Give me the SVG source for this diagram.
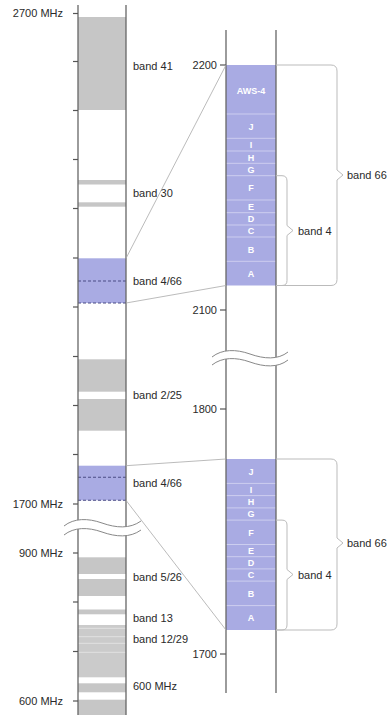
<svg xmlns="http://www.w3.org/2000/svg" width="387" height="715" viewBox="0 0 387 715">
<style>
.txt{font-family:"Liberation Sans",Arial,sans-serif;font-size:11px;fill:#2a2a2a}
.end{text-anchor:end}
.grey{fill:#c6c6c6}
.lgrey{fill:#cbcbcb}
.purple{fill:#a9abe3}
.col{stroke:#666;stroke-width:1.3;fill:none}
.tick{stroke:#555;stroke-width:1.2}
.dash{stroke:#4b4c85;stroke-width:1.1;stroke-dasharray:3,2}
.sep{stroke:#d6d7f3;stroke-width:0.8}
.wsep{stroke:#e4e4e4;stroke-width:0.9}
.lt{font-family:"Liberation Sans",Arial,sans-serif;font-weight:bold;font-size:9px;fill:#fff;text-anchor:middle}
.conn{stroke:#aaa;stroke-width:0.8;fill:none}
.brace{stroke:#bbb;stroke-width:1;fill:none}
.wave{stroke:#888;stroke-width:1;fill:none}
</style>
<rect width="387" height="715" fill="#fff"/>

<g id="left-column">
  <rect class="grey" x="78" y="17" width="48" height="93"/>
  <rect class="grey" x="78" y="180" width="48" height="4.5"/>
  <rect class="grey" x="78" y="202.3" width="48" height="4.4"/>
  <rect class="purple" x="78" y="258.3" width="48" height="44.7"/>
  <line class="dash" x1="78" y1="281" x2="126" y2="281"/>
  <line class="dash" x1="78" y1="303" x2="126" y2="303"/>
  <rect class="grey" x="78" y="359.3" width="48" height="32.4"/>
  <rect class="grey" x="78" y="399" width="48" height="31.7"/>
  <rect class="purple" x="78" y="465.7" width="48" height="34.6"/>
  <line class="dash" x1="78" y1="477.3" x2="126" y2="477.3"/>
  <line class="dash" x1="78" y1="500.3" x2="126" y2="500.3"/>
  <rect class="grey" x="78" y="557.3" width="48" height="16.7"/>
  <rect class="grey" x="78" y="579" width="48" height="17"/>
  <rect class="grey" x="78" y="609.5" width="48" height="4.8"/>
  <rect class="lgrey" x="78" y="625" width="48" height="52.3"/>
  <line class="wsep" x1="78" y1="628.3" x2="126" y2="628.3"/>
  <line class="wsep" x1="78" y1="636.7" x2="126" y2="636.7"/>
  <line class="wsep" x1="78" y1="643.3" x2="126" y2="643.3"/>
  <line class="wsep" x1="78" y1="652.3" x2="126" y2="652.3"/>
  <rect class="grey" x="78" y="683.3" width="48" height="9"/>
  <rect class="grey" x="78" y="699.7" width="48" height="15.3"/>
  <line class="col" x1="78" y1="5" x2="78" y2="715"/>
  <line class="col" x1="126" y1="5" x2="126" y2="715"/>
  <g class="tick">
    <line x1="73" y1="13.5" x2="78" y2="13.5"/>
    <line x1="73" y1="61.5" x2="78" y2="61.5"/>
    <line x1="73" y1="110.5" x2="78" y2="110.5"/>
    <line x1="73" y1="159.5" x2="78" y2="159.5"/>
    <line x1="73" y1="208.5" x2="78" y2="208.5"/>
    <line x1="73" y1="258" x2="78" y2="258"/>
    <line x1="73" y1="307" x2="78" y2="307"/>
    <line x1="73" y1="356.5" x2="78" y2="356.5"/>
    <line x1="73" y1="405.5" x2="78" y2="405.5"/>
    <line x1="73" y1="454.5" x2="78" y2="454.5"/>
    <line x1="73" y1="504" x2="78" y2="504"/>
    <line x1="73" y1="553" x2="78" y2="553"/>
    <line x1="73" y1="602" x2="78" y2="602"/>
    <line x1="73" y1="651.5" x2="78" y2="651.5"/>
    <line x1="73" y1="701" x2="78" y2="701"/>
  </g>
  <path d="M64,526 C74,518 88,518 102,523 C116,528 130,529 141,521 L141,530 C130,538 116,537 102,532 C88,527 74,527 64,535 Z" fill="#fff"/>
  <path class="wave" d="M64,526 C74,518 88,518 102,523 C116,528 130,529 141,521"/>
  <path class="wave" d="M64,535 C74,527 88,527 102,532 C116,537 130,538 141,530"/>
</g>

<g id="left-labels">
  <text class="txt end" x="63" y="17">2700 MHz</text>
  <text class="txt end" x="63" y="508">1700 MHz</text>
  <text class="txt end" x="63" y="557">900 MHz</text>
  <text class="txt end" x="63" y="705">600 MHz</text>
  <text class="txt" x="133" y="69.5">band 41</text>
  <text class="txt" x="133" y="197">band 30</text>
  <text class="txt" x="133" y="285">band 4/66</text>
  <text class="txt" x="133" y="399">band 2/25</text>
  <text class="txt" x="133" y="486.5">band 4/66</text>
  <text class="txt" x="133" y="580.5">band 5/26</text>
  <text class="txt" x="133" y="622">band 13</text>
  <text class="txt" x="133" y="643">band 12/29</text>
  <text class="txt" x="133" y="689.5">600 MHz</text>
</g>

<g id="right-column-upper">
  <rect class="purple" x="226" y="65" width="50" height="220.5"/>
  <g class="sep">
    <line x1="226" y1="114" x2="276" y2="114"/>
    <line x1="226" y1="138.3" x2="276" y2="138.3"/>
    <line x1="226" y1="151" x2="276" y2="151"/>
    <line x1="226" y1="163.3" x2="276" y2="163.3"/>
    <line x1="226" y1="175.7" x2="276" y2="175.7"/>
    <line x1="226" y1="200" x2="276" y2="200"/>
    <line x1="226" y1="212.7" x2="276" y2="212.7"/>
    <line x1="226" y1="225" x2="276" y2="225"/>
    <line x1="226" y1="237" x2="276" y2="237"/>
    <line x1="226" y1="261.3" x2="276" y2="261.3"/>
  </g>
  <text class="lt" x="251" y="93.5" font-size="10">AWS-4</text>
  <text class="lt" x="251" y="129.5">J</text>
  <text class="lt" x="251" y="148">I</text>
  <text class="lt" x="251" y="160.5">H</text>
  <text class="lt" x="251" y="172.8">G</text>
  <text class="lt" x="251" y="191">F</text>
  <text class="lt" x="251" y="209.5">E</text>
  <text class="lt" x="251" y="222">D</text>
  <text class="lt" x="251" y="234.3">C</text>
  <text class="lt" x="251" y="252.5">B</text>
  <text class="lt" x="251" y="276.8">A</text>
</g>

<g id="right-column-lower">
  <rect class="purple" x="226" y="459" width="50" height="171"/>
  <g class="sep">
    <line x1="226" y1="483.4" x2="276" y2="483.4"/>
    <line x1="226" y1="495.6" x2="276" y2="495.6"/>
    <line x1="226" y1="507.9" x2="276" y2="507.9"/>
    <line x1="226" y1="520.1" x2="276" y2="520.1"/>
    <line x1="226" y1="544.5" x2="276" y2="544.5"/>
    <line x1="226" y1="556.7" x2="276" y2="556.7"/>
    <line x1="226" y1="568.9" x2="276" y2="568.9"/>
    <line x1="226" y1="581.1" x2="276" y2="581.1"/>
    <line x1="226" y1="605.6" x2="276" y2="605.6"/>
  </g>
  <text class="lt" x="251" y="474.5">J</text>
  <text class="lt" x="251" y="492.8">I</text>
  <text class="lt" x="251" y="505">H</text>
  <text class="lt" x="251" y="517.3">G</text>
  <text class="lt" x="251" y="535.5">F</text>
  <text class="lt" x="251" y="553.9">E</text>
  <text class="lt" x="251" y="566">D</text>
  <text class="lt" x="251" y="578.3">C</text>
  <text class="lt" x="251" y="596.7">B</text>
  <text class="lt" x="251" y="621">A</text>
</g>

<g id="right-column">
  <line class="col" x1="226" y1="30" x2="226" y2="693"/>
  <line class="col" x1="276" y1="30" x2="276" y2="693"/>
  <g class="tick">
    <line x1="220" y1="65" x2="226" y2="65"/>
    <line x1="220" y1="310" x2="226" y2="310"/>
    <line x1="220" y1="409" x2="226" y2="409"/>
    <line x1="220" y1="654" x2="226" y2="654"/>
  </g>
  <path d="M212,357 C222,349 236,349 250,354 C264,359 278,360 288,352 L288,360 C278,368 264,367 250,362 C236,357 222,357 212,365 Z" fill="#fff"/>
  <path class="wave" d="M212,357 C222,349 236,349 250,354 C264,359 278,360 288,352"/>
  <path class="wave" d="M212,365 C222,357 236,357 250,362 C264,367 278,368 288,360"/>
  <text class="txt end" x="217" y="68.5">2200</text>
  <text class="txt end" x="217" y="313.5">2100</text>
  <text class="txt end" x="217" y="412.5">1800</text>
  <text class="txt end" x="217" y="657.5">1700</text>
</g>

<g id="connectors">
  <line class="conn" x1="126" y1="258.3" x2="226" y2="65"/>
  <line class="conn" x1="126" y1="303" x2="226" y2="285.5"/>
  <line class="conn" x1="126" y1="465.7" x2="226" y2="459"/>
  <line class="conn" x1="126" y1="500.3" x2="226" y2="630"/>
</g>

<g id="brace-upper-66">
  <path class="brace" d="M276,65 H331 Q337,65 337,71 V170 L343,175 L337,180 V279.5 Q337,285.5 331,285.5 H276"/>
  <text class="txt" x="347" y="179">band 66</text>
</g>
<g id="brace-upper-4">
  <path class="brace" d="M276,175.7 H282 Q287,175.7 287,181 V225.5 L293,230.5 L287,235.5 V280.5 Q287,285.5 282,285.5 H276"/>
  <text class="txt" x="298" y="234.5">band 4</text>
</g>
<g id="brace-lower-66">
  <path class="brace" d="M276,459 H331 Q337,459 337,465 V538 L343,543 L337,548 V624 Q337,630 331,630 H276"/>
  <text class="txt" x="347" y="547">band 66</text>
</g>
<g id="brace-lower-4">
  <path class="brace" d="M276,520.1 H282 Q287,520.1 287,525 V569.5 L293,574.5 L287,579.5 V625 Q287,630 282,630 H276"/>
  <text class="txt" x="298" y="578.5">band 4</text>
</g>
</svg>
